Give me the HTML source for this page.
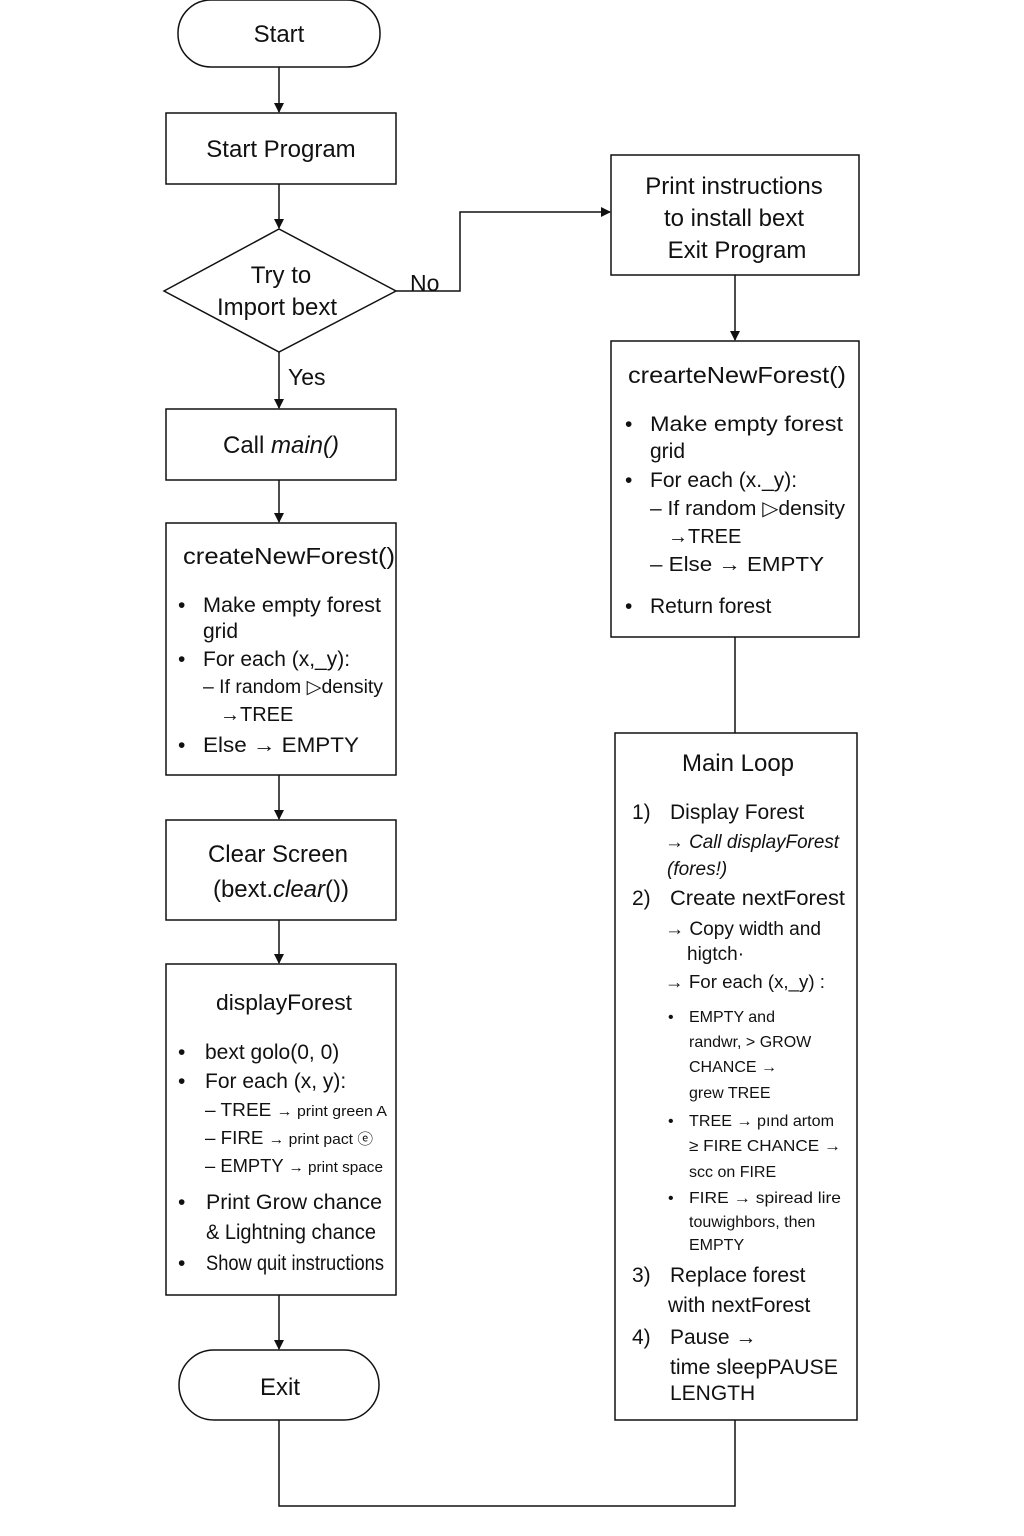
<!DOCTYPE html>
<html><head><meta charset="utf-8"><style>
html,body{margin:0;padding:0;background:#fff;}
svg{display:block;}
text{font-family:"Liberation Sans","DejaVu Sans",sans-serif;fill:#111;}
</style></head><body>
<svg width="1024" height="1536" viewBox="0 0 1024 1536" xmlns="http://www.w3.org/2000/svg">
<defs><marker id="a" markerWidth="10" markerHeight="10" refX="9" refY="5" orient="auto" markerUnits="userSpaceOnUse"><path d="M0,0 L10,5 L0,10 z" fill="#111"/></marker></defs>
<g fill="none" stroke="#111" stroke-width="1.5">
<rect x="178" y="0" width="202" height="67" rx="33"/>
<rect x="166" y="113" width="230" height="71"/>
<polygon points="164,291 279,229 396,291 279,352"/>
<rect x="611" y="155" width="248" height="120"/>
<rect x="611" y="341" width="248" height="296"/>
<rect x="615" y="733" width="242" height="687"/>
<rect x="166" y="409" width="230" height="71"/>
<rect x="166" y="523" width="230" height="252"/>
<rect x="166" y="820" width="230" height="100"/>
<rect x="166" y="964" width="230" height="331"/>
<rect x="179" y="1350" width="200" height="70" rx="35"/>
<line x1="279" y1="67" x2="279" y2="112" marker-end="url(#a)"/>
<line x1="279" y1="184" x2="279" y2="228" marker-end="url(#a)"/>
<line x1="279" y1="352" x2="279" y2="408" marker-end="url(#a)"/>
<line x1="279" y1="480" x2="279" y2="522" marker-end="url(#a)"/>
<line x1="279" y1="775" x2="279" y2="819" marker-end="url(#a)"/>
<line x1="279" y1="920" x2="279" y2="963" marker-end="url(#a)"/>
<line x1="279" y1="1295" x2="279" y2="1349" marker-end="url(#a)"/>
<polyline points="396,291 460,291 460,212 610,212" marker-end="url(#a)"/>
<line x1="735" y1="275" x2="735" y2="340" marker-end="url(#a)"/>
<line x1="735" y1="637" x2="735" y2="733"/>
<polyline points="735,1420 735,1506 279,1506 279,1420"/>
</g>
<g font-size="24" text-anchor="middle">
<text x="279" y="42">Start</text>
<text x="281" y="157">Start Program</text>
<text x="281" y="283">Try to</text>
<text x="277" y="315">Import bext</text>
<text x="734" y="194">Print instructions</text>
<text x="734" y="226">to install bext</text>
<text x="737" y="258">Exit Program</text>
<text x="281" y="453">Call <tspan font-style="italic">main()</tspan></text>
<text x="278" y="862">Clear Screen</text>
<text x="281" y="897">(bext.<tspan font-style="italic">clear</tspan>())</text>
<text x="280" y="1395">Exit</text>
<text x="738" y="771">Main Loop</text>
</g>
<g font-size="23">
<text x="410" y="291">No</text>
<text x="288" y="385">Yes</text>
<text x="628" y="383" textLength="218" lengthAdjust="spacingAndGlyphs">crearteNewForest()</text>
<text x="183" y="564" textLength="212" lengthAdjust="spacingAndGlyphs">createNewForest()</text>
</g>
<g font-size="21">
<text x="625" y="431">•</text><text x="650" y="431" textLength="193" lengthAdjust="spacingAndGlyphs">Make empty forest</text>
<text x="650" y="458">grid</text>
<text x="625" y="487">•</text><text x="650" y="487">For each (x._y):</text>
<text x="650" y="515" font-size="20" textLength="195" lengthAdjust="spacingAndGlyphs">–  If random ▷density</text>
<text x="668" y="543" font-size="20">→TREE</text>
<text x="650" y="571" font-size="20" textLength="174" lengthAdjust="spacingAndGlyphs">–  Else → EMPTY</text>
<text x="625" y="613">•</text><text x="650" y="613">Return forest</text>

<text x="178" y="612">•</text><text x="203" y="612" textLength="178" lengthAdjust="spacingAndGlyphs">Make empty forest</text>
<text x="203" y="638">grid</text>
<text x="178" y="666">•</text><text x="203" y="666">For each (x,_y):</text>
<text x="203" y="693" font-size="19" textLength="180" lengthAdjust="spacingAndGlyphs">–  If random ▷density</text>
<text x="220" y="721" font-size="20">→TREE</text>
<text x="178" y="752">•</text><text x="203" y="752" textLength="156" lengthAdjust="spacingAndGlyphs">Else → EMPTY</text>

<text x="216" y="1010" font-size="22" textLength="136" lengthAdjust="spacingAndGlyphs">displayForest</text>
<text x="178" y="1059">•</text><text x="205" y="1059">bext golo(0, 0)</text>
<text x="178" y="1088">•</text><text x="205" y="1088">For each (x, y):</text>
<text x="205" y="1116" font-size="18" textLength="182" lengthAdjust="spacingAndGlyphs">–  TREE <tspan font-size="15">→ print green  A</tspan></text>
<text x="205" y="1144" font-size="18" textLength="168" lengthAdjust="spacingAndGlyphs">–  FIRE <tspan font-size="15">→ print pact ⓔ</tspan></text>
<text x="205" y="1172" font-size="18" textLength="178" lengthAdjust="spacingAndGlyphs">–  EMPTY <tspan font-size="15">→ print space</tspan></text>
<text x="178" y="1209">•</text><text x="206" y="1209" textLength="176" lengthAdjust="spacingAndGlyphs">Print Grow chance</text>
<text x="206" y="1239" textLength="170" lengthAdjust="spacingAndGlyphs">&amp; Lightning chance</text>
<text x="178" y="1270">•</text><text x="206" y="1270" textLength="178" lengthAdjust="spacingAndGlyphs">Show quit instructions</text>

<text x="632" y="819">1)</text><text x="670" y="819">Display Forest</text>
<text x="665" y="848" font-size="19" font-style="italic" textLength="174" lengthAdjust="spacingAndGlyphs">→ Call displayForest</text>
<text x="667" y="875" font-size="19" font-style="italic">(fores!)</text>
<text x="632" y="905">2)</text><text x="670" y="905" textLength="175" lengthAdjust="spacingAndGlyphs">Create nextForest</text>
<text x="665" y="935" font-size="19" textLength="156" lengthAdjust="spacingAndGlyphs">→ Copy width and</text>
<text x="687" y="960" font-size="19">higtch·</text>
<text x="665" y="988" font-size="18" textLength="160" lengthAdjust="spacingAndGlyphs">→ For each  (x,_y) :</text>
<text x="668" y="1022" font-size="16">•</text><text x="689" y="1022" font-size="16">EMPTY and</text>
<text x="689" y="1047" font-size="16">randwr, &gt; GROW</text>
<text x="689" y="1072" font-size="16">CHANCE →</text>
<text x="689" y="1098" font-size="16">grew TREE</text>
<text x="668" y="1126" font-size="16">•</text><text x="689" y="1126" font-size="16" textLength="145" lengthAdjust="spacingAndGlyphs">TREE → pınd artom</text>
<text x="689" y="1151" font-size="16" textLength="152" lengthAdjust="spacingAndGlyphs">≥ FIRE CHANCE →</text>
<text x="689" y="1177" font-size="16">scc on FIRE</text>
<text x="668" y="1203" font-size="16">•</text><text x="689" y="1203" font-size="16" textLength="152" lengthAdjust="spacingAndGlyphs">FIRE → spiread lire</text>
<text x="689" y="1227" font-size="16">touwighbors, then</text>
<text x="689" y="1250" font-size="16">EMPTY</text>
<text x="632" y="1282">3)</text><text x="670" y="1282">Replace forest</text>
<text x="668" y="1312">with nextForest</text>
<text x="632" y="1344">4)</text><text x="670" y="1344">Pause →</text>
<text x="670" y="1374" textLength="168" lengthAdjust="spacingAndGlyphs">time sleepPAUSE</text>
<text x="670" y="1400">LENGTH</text>
</g>
</svg>
</body></html>
